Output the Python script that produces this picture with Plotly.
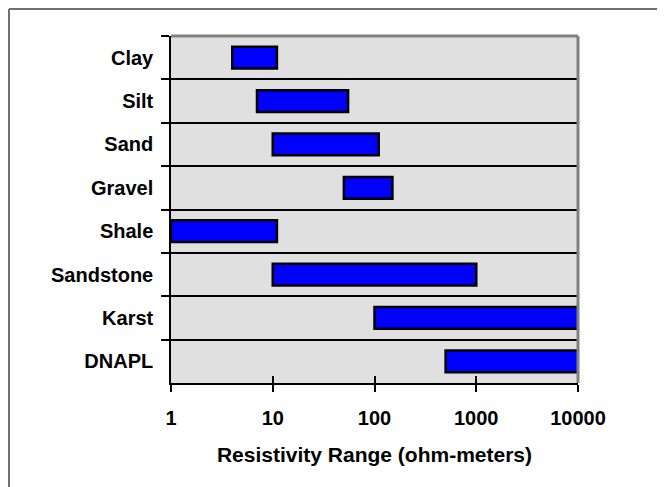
import plotly.graph_objects as go

categories = ["Clay", "Silt", "Sand", "Gravel", "Shale", "Sandstone", "Karst", "DNAPL"]
low_values = [4, 7, 10, 50, 1, 10, 100, 500]
high_values = [11, 55, 110, 150, 11, 1000, 10000, 11000]
x_tick_values = [1, 10, 100, 1000, 10000]
x_tick_labels = ["1", "10", "100", "1000", "10000"]
x_title = "Resistivity Range (ohm-meters)"

FONT = "Liberation Sans, Arial, sans-serif"

span = [h - l for l, h in zip(low_values, high_values)]

fig = go.Figure()
fig.add_trace(go.Bar(
    y=categories, x=span, base=low_values, orientation="h",
    width=0.5,
    marker=dict(color="#0000FF", line=dict(color="#000000", width=2.5)),
    hoverinfo="skip", showlegend=False,
))
# invisible trace on overlay axis (for crossing ticks)
fig.add_trace(go.Scatter(x=[1], y=[categories[0]], xaxis="x2", yaxis="y",
                         mode="markers", marker=dict(opacity=0), showlegend=False,
                         hoverinfo="skip"))

# page body has an 8px margin, so the figure is shrunk by 8px and offsets reduced
OFF = 8
W, H = 665 - OFF, 487 - OFF
L, R, T, B = 171 - OFF, 87, 36 - OFF, 104
pw, ph = W - L - R, H - T - B

fig.update_layout(
    width=W, height=H,
    margin=dict(l=L, r=R, t=T, b=B, pad=0, autoexpand=False),
    paper_bgcolor="white",
    plot_bgcolor="#E0E0E0",
    font=dict(family=FONT, color="#000000"),
    xaxis=dict(
        type="log", range=[0, 4], automargin=False,
        tickvals=x_tick_values, ticktext=x_tick_labels,
        ticks="outside", ticklen=7, tickwidth=1.5, tickcolor="#000000",
        ticklabelstandoff=9,
        showline=True, linecolor="#000000", linewidth=1.5,
        showgrid=False, zeroline=False,
        tickfont=dict(family=FONT, size=20, color="#000000", weight="bold"),
        title=dict(text=x_title, standoff=20,
                   font=dict(family=FONT, size=21, color="#000000", weight="bold")),
    ),
    xaxis2=dict(
        type="log", range=[0, 4], overlaying="x", side="bottom", automargin=False,
        tickvals=x_tick_values, ticks="inside", ticklen=7, tickwidth=1.5,
        tickcolor="#000000", showticklabels=False, showgrid=False,
        showline=False, zeroline=False,
    ),
    yaxis=dict(
        type="category", categoryorder="array", categoryarray=categories,
        autorange="reversed", automargin=False,
        tickson="boundaries", ticks="outside", ticklen=8, tickwidth=1.5,
        tickcolor="#000000",
        showgrid=True, gridcolor="#000000", gridwidth=1.5,
        showline=True, linecolor="#000000", linewidth=1.5,
        ticklabelstandoff=12,
        tickfont=dict(family=FONT, size=20, color="#000000", weight="bold"),
    ),
    shapes=[
        # plot area top & right border (gray)
        dict(type="line", xref="paper", yref="paper", x0=0, x1=1, y0=1, y1=1,
             line=dict(color="#808080", width=3)),
        dict(type="line", xref="paper", yref="paper", x0=1, x1=1, y0=0, y1=1,
             line=dict(color="#808080", width=3)),
        # outer frame (top and left visible)
        dict(type="line", xref="paper", yref="paper",
             x0=(1 - L) / pw, x1=(W + 10 - L) / pw,
             y0=(H - B - 1) / ph, y1=(H - B - 1) / ph,
             line=dict(color="#707070", width=2)),
        dict(type="line", xref="paper", yref="paper",
             x0=(1 - L) / pw, x1=(1 - L) / pw,
             y0=(H - B - 1) / ph, y1=(H - B - H - 10) / ph,
             line=dict(color="#707070", width=2)),
    ],
)

fig.write_html("out.html")
